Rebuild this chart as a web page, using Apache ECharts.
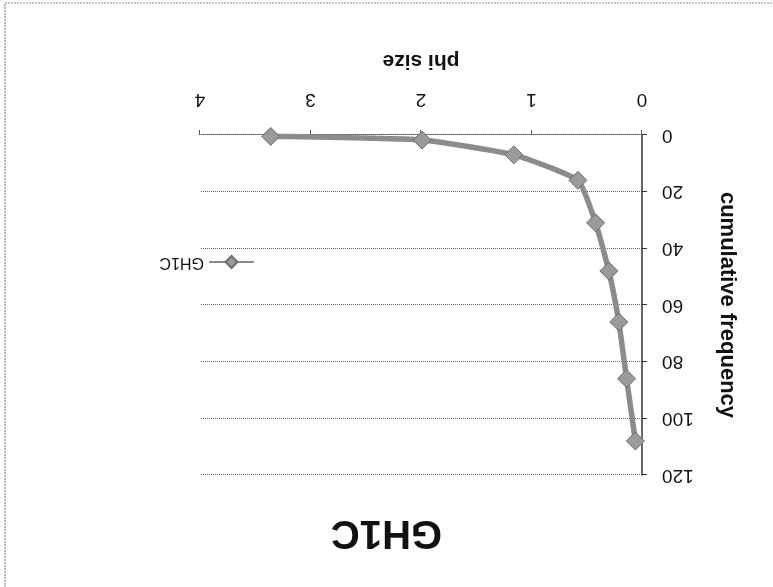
<!DOCTYPE html>
<html>
<head>
<meta charset="utf-8">
<script src="https://cdn.jsdelivr.net/npm/echarts@6/dist/echarts.min.js"></script>
<style>
  html, body { margin: 0; padding: 0; background: #fff; }
  #chart { width: 773px; height: 587px; transform: rotate(180deg); transform-origin: 50% 50%; }
</style>
</head>
<body>
<div id="chart"></div>
<script>
// Data read from the (scanned, upside-down) reference
const seriesName = 'GH1C';
const phiSize = [3.36, 1.99, 1.16, 0.58, 0.42, 0.30, 0.21, 0.14, 0.06];
const cumulativeFrequency = [0.5, 1.8, 7, 16, 31, 48, 66, 86, 108];
const xTickLabels = ['0', '1', '2', '3', '4'];
const yTickLabels = ['0', '20', '40', '60', '80', '100', '120'];

const points = phiSize.map((p, i) => [p, cumulativeFrequency[i]]);
const font = '"Liberation Sans", Arial, sans-serif';

const chart = echarts.init(document.getElementById('chart'));
chart.setOption({
  backgroundColor: '#ffffff',
  animation: false,
  title: {
    text: seriesName,
    left: 'center',
    top: 30,
    textStyle: { fontFamily: font, fontSize: 40, fontWeight: 'bold', color: '#111' }
  },
  legend: {
    data: [seriesName],
    left: 513,
    top: 312,
    itemWidth: 45,
    itemHeight: 15,
    itemGap: 6,
    textStyle: { fontFamily: font, fontSize: 16, color: '#111' }
  },
  grid: { left: 131, right: 200, top: 112, bottom: 135, containLabel: false },
  xAxis: {
    type: 'value',
    min: 0, max: 4, interval: 1,
    name: 'phi size',
    nameLocation: 'middle',
    nameGap: 64,
    nameTextStyle: { fontFamily: font, fontSize: 21, fontWeight: 'bold', color: '#111' },
    axisLine: { show: true, lineStyle: { color: '#555', width: 1, type: 'dotted' } },
    axisTick: { show: true, inside: false, length: 5, lineStyle: { color: '#555' } },
    axisLabel: {
      margin: 26, fontFamily: font, fontSize: 19, color: '#111',
      formatter: v => xTickLabels[Math.round(v)] ?? ''
    },
    splitLine: { show: false }
  },
  yAxis: {
    type: 'value',
    min: 0, max: 120, interval: 20,
    name: 'cumulative frequency',
    nameLocation: 'middle',
    nameGap: 74,
    nameRotate: 90,
    nameTextStyle: { fontFamily: font, fontSize: 22, fontWeight: 'bold', color: '#111' },
    axisLine: { show: true, lineStyle: { color: '#333', width: 1.5 } },
    axisTick: { show: true, inside: false, length: 5, lineStyle: { color: '#333' } },
    axisLabel: {
      margin: 20, fontFamily: font, fontSize: 19, color: '#111',
      formatter: v => yTickLabels[Math.round(v / 20)] ?? ''
    },
    splitLine: { show: true, lineStyle: { color: '#666', width: 1, type: 'dotted' } }
  },
  graphic: [
    {
      type: 'rect',
      shape: { x: -5, y: -5, width: 773, height: 589 },
      style: { fill: 'none', stroke: '#888', lineWidth: 1.2, lineDash: [2, 1] },
      silent: true
    }
  ],
  series: [{
    name: seriesName,
    type: 'line',
    data: points,
    smooth: 0.15,
    symbol: 'diamond',
    symbolSize: 18,
    lineStyle: { color: '#8c8c8c', width: 5.5 },
    itemStyle: { color: '#9a9a9a', borderColor: '#6e6e6e', borderWidth: 1 }
  }]
});
</script>
</body>
</html>
